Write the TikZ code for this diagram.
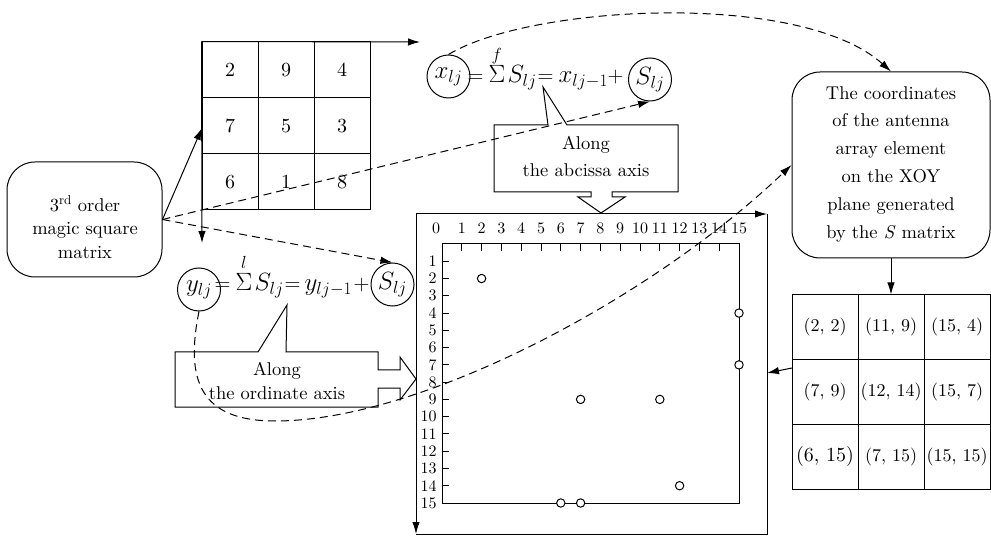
\RequirePackage{fix-cm}
\documentclass[tikz,border=0pt]{standalone}
\usepackage{fontspec}
\setmainfont{lmroman10-regular}[Extension=.otf,ItalicFont=lmroman10-italic,BoldFont=lmroman10-bold]
\usetikzlibrary{arrows.meta}
\begin{document}
\begin{tikzpicture}[x=1pt,y=-1pt,line width=1pt,
  arr/.style={-{Latex[length=12pt,width=7.5pt]}},
  dsh/.style={dash pattern=on 8pt off 5pt},
  rbox/.style={draw,rounded corners=28pt,inner sep=0pt},
  txt/.style={font=\fontsize{18.5}{23.5}\selectfont,align=center,inner sep=0pt},
  cell/.style={draw,minimum width=56pt,minimum height=56pt,inner sep=0pt,font=\fontsize{20}{22}\selectfont},
  tcell/.style={draw,minimum width=66pt,minimum height=64.7pt,inner sep=0pt,font=\fontsize{18}{22}\selectfont},
  eqc/.style={draw,circle,minimum size=43pt,inner sep=0pt,font=\fontsize{25}{28}\selectfont},
  eqm/.style={anchor=base west,inner sep=0pt,font=\fontsize{25}{28}\selectfont},
  eqo/.style={anchor=base west,inner sep=0pt,font=\fontsize{22}{26}\selectfont},
  tick/.style={font=\fontsize{16}{17}\selectfont,inner sep=0pt},
  pt/.style={draw,circle,fill=white,minimum size=8.4pt,inner sep=0pt}]
\useasboundingbox (0,0) rectangle (991,537);

% magic square box
\node[rbox,minimum width=155pt,minimum height=115pt] (ms) at (84.5,219.5) {};
\node[txt] (mst) at (85,227) {3\textsuperscript{rd} order\\magic square\\matrix};

% magic square grid
\node[cell] (g11) at (230,70) {2};
\node[cell] (g12) at (286,70) {9};
\node[cell] (g13) at (342,70) {4};
\node[cell] (g21) at (230,126) {7};
\node[cell] (g22) at (286,126) {5};
\node[cell] (g23) at (342,126) {3};
\node[cell] (g31) at (230,182) {6};
\node[cell] (g32) at (286,182) {1};
\node[cell] (g33) at (342,182) {8};
\coordinate (gx) at (420,42);
\coordinate (gy) at (202,243);
\coordinate (gl) at (202,128);
\draw[arr] (g11.north west) -- (gx);
\draw[arr] (g11.north west) -- (gy);
\draw[arr] (ms.east) -- (gl);

% x equation
\node[eqc] (xc) at (448.5,76.5) {$x_{lj}$};
\node[eqo] (xe1) at (467,83) {$=$};
\node[eqm] (xsig) at (488,83) {$\mathop{\Sigma\kern0pt}\limits^{\raisebox{3pt}{$\scriptstyle f$}}$};
\node[eqm] (xsl) at (507,83) {$S_{lj}$};
\node[eqo] (xe2) at (537,83) {$=$};
\node[eqm] (xprev) at (558,83) {$x_{lj-1}$};
\node[eqo] (xpl) at (607,83) {$+$};
\node[eqc] (xs) at (650,79.5) {$S_{lj}$};

% y equation
\node[eqc] (yc) at (199,289.5) {$y_{lj}$};
\node[eqo] (ye1) at (214,291) {$=$};
\node[eqm] (ysig) at (235,291) {$\mathop{\Sigma\kern0pt}\limits^{\raisebox{3pt}{$\scriptstyle l$}}$};
\node[eqm] (ysl) at (254,291) {$S_{lj}$};
\node[eqo] (ye2) at (284,291) {$=$};
\node[eqm] (yprev) at (304,291) {$y_{lj-1}$};
\node[eqo] (ypl) at (353,291) {$+$};
\node[eqc] (ys) at (392.5,284.5) {$S_{lj}$};

% callout abcissa
\draw (494,125) -- (548,125) -- (543,87) -- (567,125) -- (678,125) -- (678,192)
  -- (612,192) -- (612,197) -- (625,197) -- (601,213) -- (578,197) -- (591,197)
  -- (591,192) -- (494,192) -- cycle;
\node[txt,font=\fontsize{18.5}{27}\selectfont] (ab) at (586,156) {Along\\the abcissa axis};

% callout ordinate
\draw (175,352) -- (258,352) -- (287,305) -- (286,352) -- (378,352) -- (378,370)
  -- (400,370) -- (400,357) -- (416,379) -- (400,400) -- (400,388) -- (378,388)
  -- (378,407) -- (175,407) -- cycle;
\node[txt] (or) at (277,381) {Along\\the ordinate axis};

% plot
\coordinate (o) at (416,214);
\coordinate (ox) at (767,214);
\coordinate (oy) at (416,534);
\coordinate (oc) at (767,534);
\draw[arr] (o) -- (ox);
\draw[arr] (o) -- (oy);
\draw (ox) -- (oc) -- (oy);
\draw (442,244) rectangle (739,503);
\foreach \i in {1,...,14} \draw ({442+19.8*\i},244) -- ++(0,7);
\foreach \j in {1,...,14} \draw (442,{244+17.267*\j}) -- ++(7,0);
\node[tick] (tx0) at (436,228) {0};
\foreach \i in {1,...,15} \node[tick] (tx\i) at ({442+19.8*\i},228) {\i};
\foreach \j in {1,...,15} \node[tick,anchor=east] (ty\j) at (437,{244+17.267*\j}) {\j};
\foreach \p/\q [count=\k] in {2/2,15/4,15/7,7/9,11/9,12/14,6/15,7/15}
  \node[pt] (p\k) at ({442+19.8*\p},{244+17.267*\q}) {};

% coordinates box
\node[rbox,minimum width=198pt,minimum height=186pt] (cb) at (891,165) {};
\node[txt,font=\fontsize{18.5}{27.8}\selectfont] (cbt) at (891,164) {The coordinates\\of the antenna\\array element\\on the XOY\\plane generated\\by the \textit{S} matrix};

% table
\node[tcell] (t11) at (825,327.3) {(2, 2)};
\node[tcell] (t12) at (891,327.3) {(11, 9)};
\node[tcell] (t13) at (957,327.3) {(15, 4)};
\node[tcell] (t21) at (825,392) {(7, 9)};
\node[tcell] (t22) at (891,392) {(12, 14)};
\node[tcell] (t23) at (957,392) {(15, 7)};
\node[tcell,font=\fontsize{20}{22}\selectfont] (t31) at (825,456.7) {(6, 15)};
\node[tcell] (t32) at (891,456.7) {(7, 15)};
\node[tcell] (t33) at (957,456.7) {(15, 15)};
\draw[arr] (cb.south) -- (t12.north);
\coordinate (ts) at (792,368);
\coordinate (pe) at (767,373);
\draw[arr] (ts) -- (pe);

% dashed connectors
\draw[dsh,arr] (ms.east) -- (xs.south);
\draw[dsh,arr] (ms.east) -- (ys.north);
\draw[dsh,arr] (xc.north) .. controls (530,5) and (800,-10) .. (cb.north);
\draw[dsh,arr] (yc.south) .. controls (185,380) and (200,421) .. (275,421)
  .. controls (420,421) and (650,300) .. (cb.west);
\end{tikzpicture}
\end{document}
